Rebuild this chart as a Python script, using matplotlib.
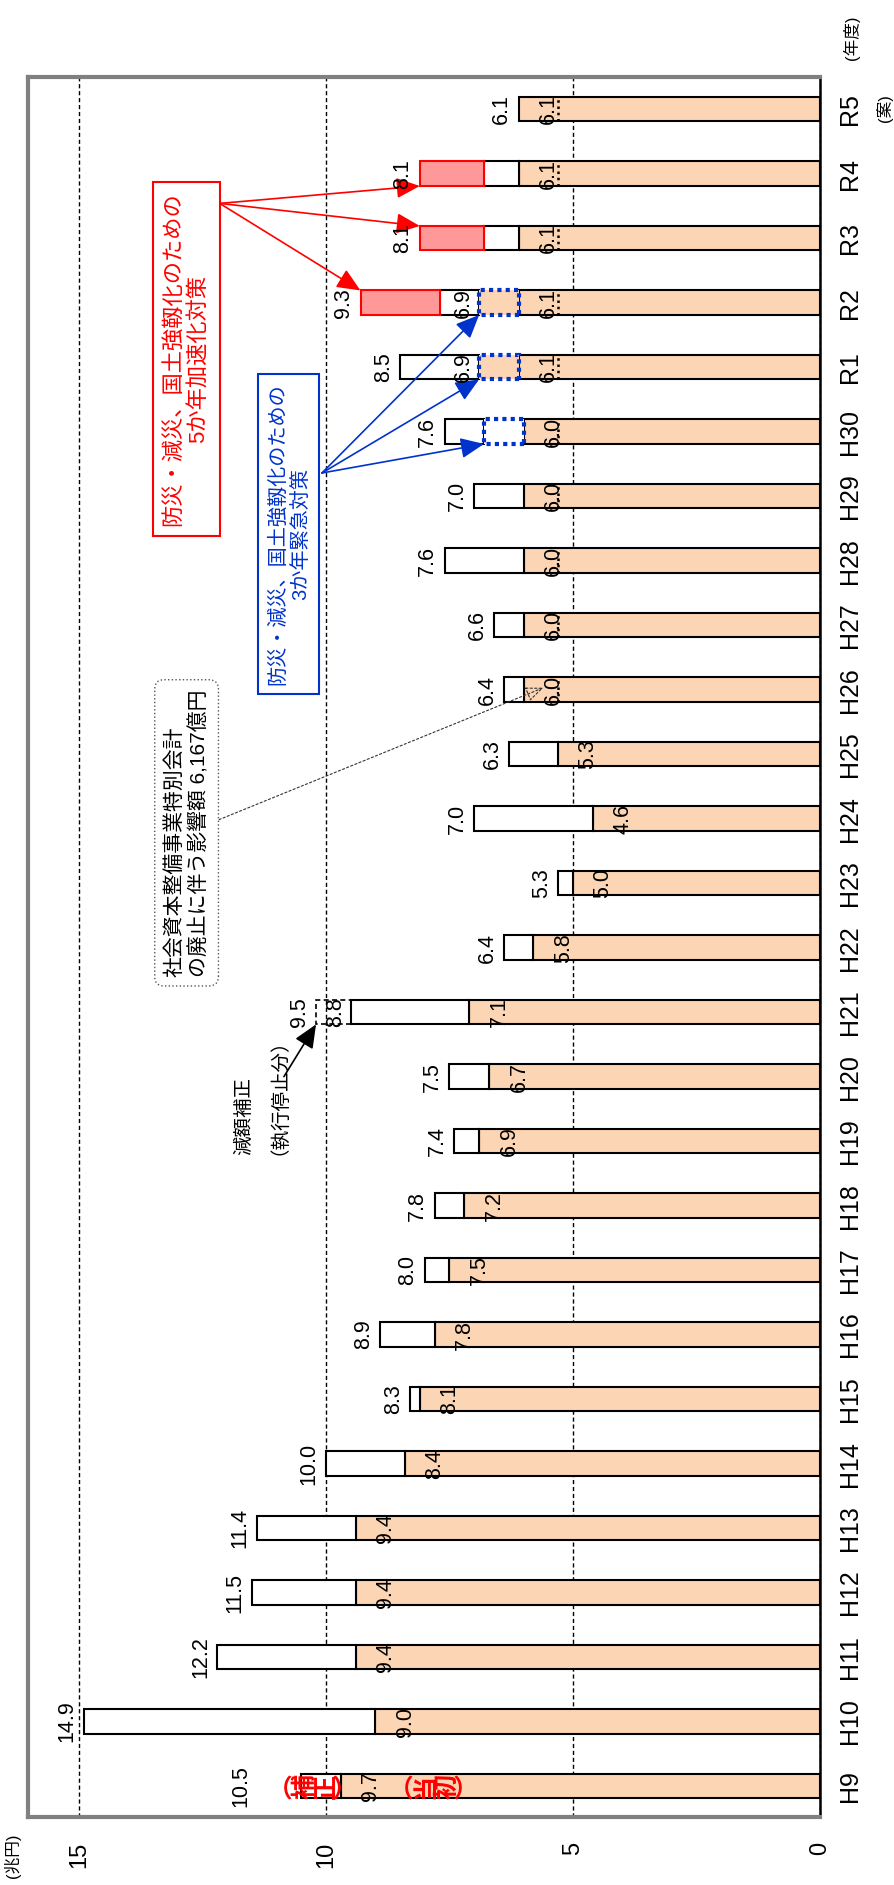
import numpy as np
import matplotlib.pyplot as plt

plt.rcParams['font.family'] = ['Liberation Sans', 'Noto Sans CJK JP', 'DejaVu Sans']

# 公共事業関係費の推移 (兆円)
years = ['H9', 'H10', 'H11', 'H12', 'H13', 'H14', 'H15', 'H16', 'H17', 'H18',
         'H19', 'H20', 'H21', 'H22', 'H23', 'H24', 'H25', 'H26', 'H27', 'H28',
         'H29', 'H30', 'R1', 'R2', 'R3', 'R4', 'R5']
initial = [9.7, 9.0, 9.4, 9.4, 9.4, 8.4, 8.1, 7.8, 7.5, 7.2,
           6.9, 6.7, 7.1, 5.8, 5.0, 4.6, 5.3, 6.0, 6.0, 6.0,
           6.0, 6.0, 6.1, 6.1, 6.1, 6.1, 6.1]
total = [10.5, 14.9, 12.2, 11.5, 11.4, 10.0, 8.3, 8.9, 8.0, 7.8,
         7.4, 7.5, 9.5, 6.4, 5.3, 7.0, 6.3, 6.4, 6.6, 7.6,
         7.0, 7.6, 8.5, 9.3, 8.1, 8.1, 6.1]

# 3か年緊急対策 (dotted blue box ends here)
emergency_years = ['H30', 'R1', 'R2']
emergency_end = [6.8, 6.9, 6.9]
emergency_labeled = ['R1', 'R2']

# 5か年加速化対策 (red part)
accel_years = ['R2', 'R3', 'R4']
accel_amount = [1.6, 1.3, 1.3]

# 減額補正 (執行停止分)
cut_year = 'H21'
cut_total = 8.8

# 社会資本整備事業特別会計の廃止に伴う影響
tokubetsu_from = 'H26'
tokubetsu_line = 5.3

ORANGE = '#FCD5B4'
BLUE = '#0033CC'
RED = '#FF0000'
W = 0.38
NUM = dict(fontsize=15.5, family=['Liberation Sans Narrow', 'Liberation Sans', 'DejaVu Sans'])

fig = plt.figure(figsize=(8.95, 18.85), dpi=100)
ax = fig.add_axes([28/895, 68/1885, 792/895, 1740/1885])

pos = np.arange(len(years))
idx = {y: i for i, y in enumerate(years)}

# 当初
ax.barh(pos, initial, height=W, color=ORANGE, edgecolor='black', linewidth=1.5, zorder=2)

# 補正
white_left = np.array(initial, dtype=float)
for yr, e in zip(emergency_years, emergency_end):
    white_left[idx[yr]] = e
white_right = np.array(total, dtype=float)
for yr, a in zip(accel_years, accel_amount):
    white_right[idx[yr]] = total[idx[yr]] - a
widths = white_right - white_left
m = widths > 0.001
ax.barh(pos[m], widths[m], left=white_left[m], height=W, color='white',
        edgecolor='black', linewidth=1.5, zorder=2)

# 3か年
for yr, e in zip(emergency_years, emergency_end):
    i = idx[yr]
    face = 'white' if yr == 'H30' else ORANGE
    ax.barh(i, e - initial[i], left=initial[i], height=W, color=face,
            edgecolor=BLUE, linewidth=3, linestyle=(0, (1, 1)), zorder=3)

# 5か年
for yr, a in zip(accel_years, accel_amount):
    i = idx[yr]
    ax.barh(i, a, left=total[i] - a, height=W, color='#FF9999',
            edgecolor=RED, linewidth=1.5, zorder=3)

# 減額補正
ic = idx[cut_year]
ax.barh(ic, total[ic] - cut_total, left=total[ic], height=W, fill=False,
        edgecolor='black', linewidth=1.2, linestyle=(0, (3, 2)), zorder=3)

# dotted line inside bars
s = idx[tokubetsu_from]
ax.vlines([tokubetsu_line] * (len(years) - s), pos[s:] - W/2, pos[s:] + W/2,
          colors='black', linestyles=(0, (1, 1.5)), linewidth=1.8, zorder=3)

# value labels
for i in pos:
    end = total[i]
    dx = -4.5
    if years[i] == cut_year:
        end = total[i] + (total[i] - cut_total)
    if i == 0:
        dx = -36
    ax.annotate(f'{total[i]:.1f}', (end, i), xytext=(dx, 0), textcoords='offset points',
                rotation=90, ha='right', va='center', zorder=6, **NUM)
    ax.annotate(f'{initial[i]:.1f}', (initial[i], i), xytext=(14, 0), textcoords='offset points',
                rotation=90, ha='left', va='center', zorder=6, **NUM)

for yr, e in zip(emergency_years, emergency_end):
    if yr in emergency_labeled:
        ax.annotate(f'{e:.1f}', (e, idx[yr]), xytext=(-3.5, 0), textcoords='offset points',
                    rotation=90, ha='right', va='center', zorder=6, **NUM)
ax.annotate(f'{cut_total:.1f}', (total[ic], ic), xytext=(-3, 0), textcoords='offset points',
            rotation=90, ha='right', va='center', zorder=6, **NUM)

# red / blue notes
ax.text(12.83, 22.13, '防災・減災、国土強靱化のための\n5か年加速化対策', rotation=90,
        ha='center', va='center', multialignment='center', color=RED, fontsize=16,
        linespacing=1.3, zorder=5,
        bbox=dict(boxstyle='square,pad=0.45', fc='white', ec=RED, lw=1.5))
red_src = (12.15, 24.54)
red_tips = [(total[idx['R4']], idx['R4'] - W/2),
            (total[idx['R3']], idx['R3'] + W/2),
            (total[idx['R2']], idx['R2'] + W/2)]
for tip in red_tips:
    ax.annotate('', xy=tip, xytext=red_src, zorder=4,
                arrowprops=dict(arrowstyle='-|>,head_length=0.8,head_width=0.35',
                                color=RED, lw=1.2, shrinkA=0, shrinkB=0, mutation_scale=18))

ax.text(10.75, 19.41, '防災・減災、国土強靱化のための\n3か年緊急対策', rotation=90,
        ha='center', va='center', multialignment='center', color=BLUE, fontsize=14.5,
        linespacing=1.3, zorder=5,
        bbox=dict(boxstyle='square,pad=0.45', fc='white', ec=BLUE, lw=1.5))
blue_src = (10.08, 20.36)
for yr, e in zip(emergency_years, emergency_end):
    ax.annotate('', xy=(e, idx[yr] - W/2), xytext=blue_src, zorder=4,
                arrowprops=dict(arrowstyle='-|>,head_length=0.8,head_width=0.35',
                                color=BLUE, lw=1.2, shrinkA=0, shrinkB=0, mutation_scale=18))

# 特別会計 note
ax.annotate('社会資本整備事業特別会計\nの廃止に伴う影響額 6,167億円',
            xy=(5.6, idx[tokubetsu_from] + 0.03), xytext=(12.82, 14.78),
            rotation=90, ha='center', va='center', multialignment='left', fontsize=15,
            linespacing=1.3, zorder=5,
            bbox=dict(boxstyle='round,pad=0.45', fc='white', ec='#555555', lw=1, ls=':'),
            arrowprops=dict(arrowstyle='-|>,head_length=0.6,head_width=0.25', ls=(0, (2, 2)),
                            lw=0.8, ec='#333333', fc='none', shrinkA=0, shrinkB=0,
                            mutation_scale=18))

# 減額補正 note
ax.text(11.4, 10.85, '減額補正\n（執行停止分）', rotation=90, ha='center', va='center',
        multialignment='left', fontsize=14, linespacing=1.4, zorder=5)
ax.annotate('', xy=(total[ic] + (total[ic] - cut_total), ic - W/2), xytext=(10.85, 11.0),
            zorder=4, arrowprops=dict(arrowstyle='-|>,head_length=0.8,head_width=0.35',
                                      color='black', lw=1.2, shrinkA=0, shrinkB=0,
                                      mutation_scale=18))

# (補正) (当初)
ax.text(10.2, 0, '︵\n補\n正\n︶', rotation=90, ha='center', va='center', color=RED,
        fontweight='bold', fontsize=18, linespacing=0.85, zorder=6)
ax.text(7.75, 0, '︵\n当\n初\n︶', rotation=90, ha='center', va='center', color=RED,
        fontweight='bold', fontsize=18, linespacing=0.85, zorder=6)

# axes
ax.set_xlim(16.03, 0)
ax.set_ylim(-0.48, 26.5)
ax.set_xticks([0, 5, 10, 15])
ax.set_xticklabels(['0', '5', '10', '15'], rotation=90, fontsize=17)
ax.tick_params(axis='x', length=0, pad=18)
ax.yaxis.tick_right()
ax.set_yticks(pos)
ax.set_yticklabels(years, rotation=90, fontsize=18, va='center')
ax.tick_params(axis='y', length=0, pad=13)
ax.grid(axis='x', color='black', linestyle=(0, (3, 2)), linewidth=1)
ax.grid(axis='y', visible=False)
ax.set_axisbelow(True)

for sp in ['left', 'top', 'bottom']:
    ax.spines[sp].set_color('#808080')
    ax.spines[sp].set_linewidth(3)
ax.spines['right'].set_color('black')
ax.spines['right'].set_linewidth(1.8)

fig.text(13/895, 1 - 1856/1885, '(兆円)', rotation=90, ha='center', va='center', fontsize=12)
fig.text(851/895, 1 - 38/1885, '(年度)', rotation=90, ha='center', va='center', fontsize=12)
fig.text(885/895, 1 - 108/1885, '(案)', rotation=90, ha='center', va='center', fontsize=12)

fig.savefig('out.png', dpi=100)
